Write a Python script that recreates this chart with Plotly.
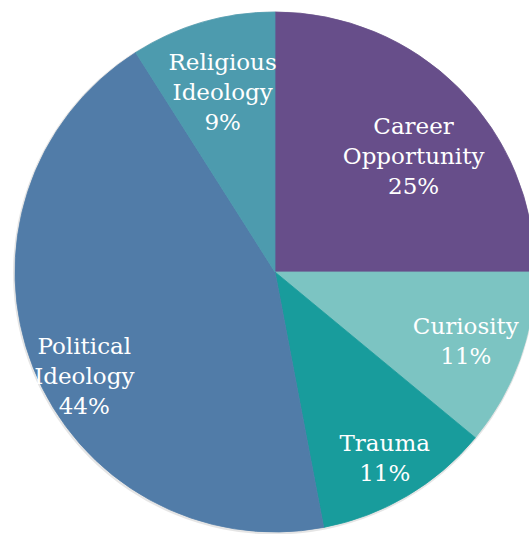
import math
import plotly.graph_objects as go

labels = ["Career<br>Opportunity", "Curiosity", "Trauma", "Political<br>Ideology", "Religious<br>Ideology"]
values = [25, 11, 11, 44, 9]
colors = ["#674E8A", "#7CC4C2", "#189C9C", "#517CA8", "#4D9BAE"]

W, H = 560, 560
cx, cy, r = 275, 272, 260
FONT = dict(family="DejaVu Serif", size=23, color="white")


def domain(cx, cy, r):
    return dict(x=[(cx - r) / W, (cx + r) / W], y=[(H - (cy + r)) / H, (H - (cy - r)) / H])


def pie(**kw):
    base = dict(labels=labels, values=values, sort=False, direction="clockwise",
                rotation=0, showlegend=False, domain=domain(cx, cy, r))
    base.update(kw)
    return go.Pie(**base)


def label_carrier(show, hole=0.0, rotation=0, dom=None):
    """Transparent pie of the same data that only carries the text of some slices."""
    return pie(
        hole=hole, rotation=rotation, domain=dom or domain(cx, cy, r),
        marker=dict(colors=["rgba(0,0,0,0)"] * len(values), line=dict(width=0)),
        texttemplate=["%{label}<br>%{percent:.0%}" if s else "" for s in show],
        textposition="inside", insidetextorientation="horizontal",
        textfont=FONT, hoverinfo="skip",
    )


fig = go.Figure()
# soft edge shadow
fig.add_trace(go.Pie(
    values=[1], labels=["shadow"], sort=False, showlegend=False,
    marker=dict(colors=["rgba(0,0,0,0.10)"], line=dict(width=0)),
    textinfo="none", hoverinfo="skip", domain=domain(cx - 0.5, cy + 1, r + 1.5),
))
# the pie itself
fig.add_trace(pie(
    marker=dict(colors=colors, line=dict(color=colors, width=0.8)),
    textinfo="none", hoverinfo="label+percent",
))
# label carriers (style: where each label sits inside its slice)
fig.add_trace(label_carrier([1, 0, 0, 0, 0], hole=0.34, rotation=5, dom=domain(cx, cy, 270)))
fig.add_trace(label_carrier([0, 1, 0, 0, 0], hole=0.56))
fig.add_trace(label_carrier([0, 0, 1, 0, 0], hole=0.66))
fig.add_trace(label_carrier([0, 0, 0, 0, 1], dom=domain(cx, cy, 240)))
# political label: pulled out along its direction
ang, rho, rp = math.radians(241.5), 217, 150
d = rho - 0.504 * rp
fig.add_trace(label_carrier([0, 0, 0, 1, 0], rotation=-7,
                            dom=domain(cx + d * math.sin(ang), cy - d * math.cos(ang), rp)))

fig.update_layout(
    width=W, height=H,
    margin=dict(l=0, r=0, t=0, b=0),
    paper_bgcolor="white",
    uniformtext=dict(minsize=23, mode="show"),
)

fig.write_html("out.html", config={"displayModeBar": False},
               post_script="document.body.style.margin='0';document.body.style.overflow='hidden';")
